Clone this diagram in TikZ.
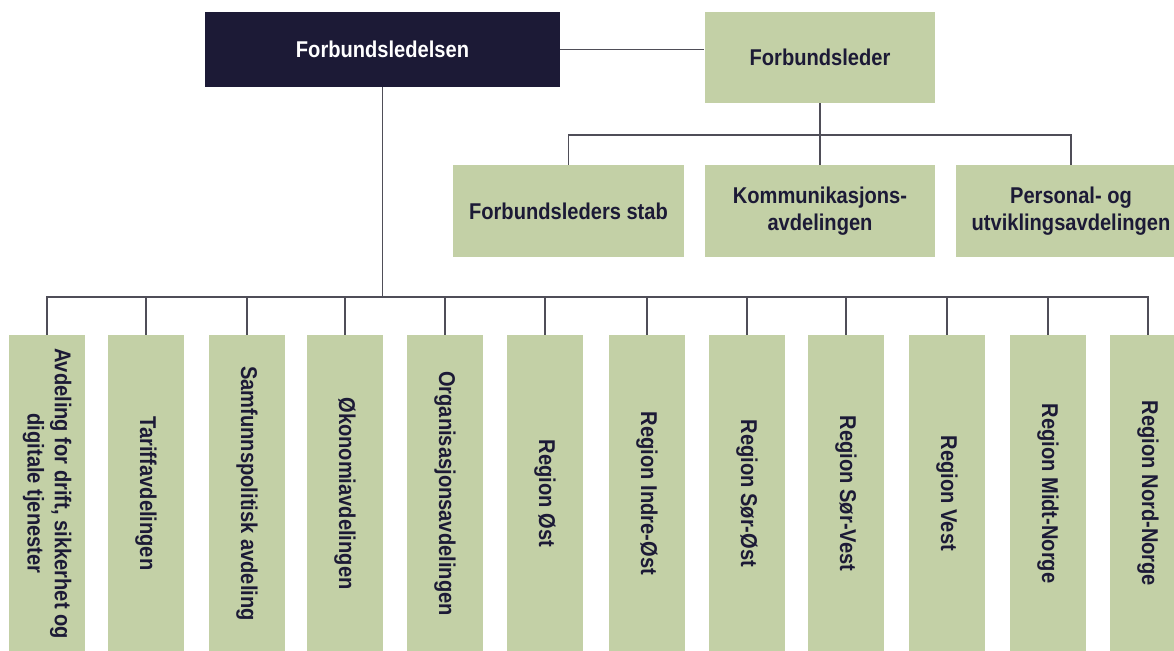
\documentclass[tikz,border=0pt]{standalone}
\usepackage{fontspec}
\setmainfont{Liberation Sans}[FakeStretch=0.88]
\usepackage{tikz}
\definecolor{navy}{HTML}{1C1A36}
\definecolor{sage}{HTML}{C3D0A6}
\definecolor{wire}{HTML}{4F4E58}
\tikzset{
    every node/.style={rectangle, inner sep=2pt, align=center,
    	font=\fontsize{13}{15.5}\selectfont\bfseries}
}
\tikzset{
    lead/.style={fill=navy, text=white, minimum width=7.1cm, minimum height=1.5cm},
    unit/.style={fill=sage, text=navy, minimum width=4.62cm, minimum height=1.84cm},
    dept/.style={fill=sage, text=navy, rotate=-90, minimum width=6.34cm,
    	minimum height=1.52cm}
}
\tikzset{
    link/.style={draw=wire, line width=0.8pt}
}

\begin{document}
\begin{tikzpicture}[x=0.02cm, y=-0.02cm]
  \useasboundingbox (0,0) rectangle (1174,651);
  \clip (0,0) rectangle (1174,651);

  \node (ledelse) [lead] at (382.5, 49.5) {Forbundsledelsen};
  \node (leder) [unit, minimum height=1.82cm] at (820, 57.5) {Forbundsleder};

  \node (stab) [unit] at (568.5, 211) {Forbundsleders stab};
  \node (komm) [unit] at (820, 211) {Kommunikasjons-\\avdelingen};
  \node (pers) [unit] at (1071, 211) {Personal- og\\utviklingsavdelingen};

  \node (drift) [dept] at (47, 493.5) {Avdeling for drift, sikkerhet og\\digitale tjenester};
  \node (tariff) [dept] at (146, 493.5) {Tariffavdelingen};
  \node (samf) [dept] at (247, 493.5) {Samfunnspolitisk avdeling};
  \node (okon) [dept] at (345, 493.5) {Økonomiavdelingen};
  \node (org) [dept] at (445, 493.5) {Organisasjonsavdelingen};
  \node (ost) [dept] at (545, 493.5) {Region Øst};
  \node (indre) [dept] at (647, 493.5) {Region Indre-Øst};
  \node (sorost) [dept] at (747, 493.5) {Region Sør-Øst};
  \node (sorvest) [dept] at (846, 493.5) {Region Sør-Vest};
  \node (vest) [dept] at (947, 493.5) {Region Vest};
  \node (midt) [dept] at (1048, 493.5) {Region Midt-Norge};
  \node (nord) [dept] at (1148, 493.5) {Region Nord-Norge};

  \coordinate (stabbus) at (820, 135);
  \coordinate (bus) at (382.5, 297);

  \draw [link] (ledelse.east) -- (ledelse.east -| leder.west);

  \draw [link] (leder.south) -- (stabbus);
  \draw [link] (stabbus) -| (stab.north);
  \draw [link] (stabbus) -- (komm.north);
  \draw [link] (stabbus) -| (pers.north);

  \draw [link] (ledelse.south) -- (bus);
  \draw [link] (bus) -| (drift.west);
  \draw [link] (bus) -| (tariff.west);
  \draw [link] (bus) -| (samf.west);
  \draw [link] (bus) -| (okon.west);
  \draw [link] (bus) -| (org.west);
  \draw [link] (bus) -| (ost.west);
  \draw [link] (bus) -| (indre.west);
  \draw [link] (bus) -| (sorost.west);
  \draw [link] (bus) -| (sorvest.west);
  \draw [link] (bus) -| (vest.west);
  \draw [link] (bus) -| (midt.west);
  \draw [link] (bus) -| (nord.west);
\end{tikzpicture}
\end{document}
